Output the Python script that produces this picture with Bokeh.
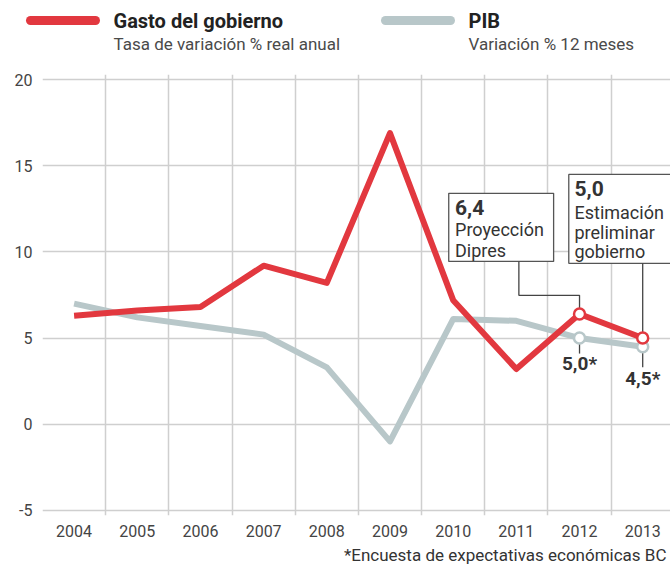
from bokeh.plotting import figure
from bokeh.models import Range1d, FixedTicker
from bokeh.layouts import column
from bokeh.core.properties import value
from bokeh.embed import file_html
from bokeh.resources import INLINE

# ---- data ----
years = [2004, 2005, 2006, 2007, 2008, 2009, 2010, 2011, 2012, 2013]
gasto = [6.3, 6.6, 6.8, 9.2, 8.2, 16.9, 7.2, 3.2, 6.4, 5.0]
pib = [7.0, 6.2, 5.7, 5.2, 3.3, -1.0, 6.1, 6.0, 5.0, 4.5]
y_ticks = [-5, 0, 5, 10, 15, 20]
hl_years = [2012, 2013]
hl_gasto = [6.4, 5.0]
hl_pib = [5.0, 4.5]
pib_labels = ["5,0*", "4,5*"]
legend_titles = ["Gasto del gobierno", "PIB"]
legend_subs = ["Tasa de variación % real anual", "Variación % 12 meses"]
footnote = "*Encuesta de expectativas económicas BC"

RED = "#e2383f"
GRAY = "#b8c7c9"
GRID = "#cfcfcf"
TXT = "#333333"
FONT = "Roboto"

# ---- legend strip (coordinates in page pixels) ----
lf = figure(width=670, height=66, x_range=Range1d(0, 670), y_range=Range1d(66, 0),
            output_backend="svg", toolbar_location=None, min_border=0, frame_align=False)
lf.axis.visible = False
lf.grid.visible = False
lf.outline_line_color = None
lf.line([30, 95], [20, 20], line_width=9, line_cap="round", color=RED)
lf.line([385, 450], [20, 20], line_width=9, line_cap="round", color=GRAY)
lf.text(x=[113, 468], y=[20, 20], text=legend_titles, text_font=value(FONT),
        text_font_size="20px", text_font_style="bold", text_color="#222222",
        text_baseline="middle", text_align="left")
lf.text(x=[113, 468], y=[43, 43], text=legend_subs, text_font=value(FONT),
        text_font_size="17px", text_color="#4a4a4a",
        text_baseline="middle", text_align="left")

# ---- main chart ----
p = figure(width=670, height=474, x_range=Range1d(2003.5, 2013.44), y_range=Range1d(-5.3, 20.3),
           output_backend="svg", toolbar_location=None, frame_align=False,
           min_border_left=42, min_border_right=0, min_border_top=8, min_border_bottom=25)
p.outline_line_color = None
p.background_fill_color = "white"

p.xaxis.ticker = FixedTicker(ticks=years)
p.yaxis.ticker = FixedTicker(ticks=y_ticks)
p.yaxis.major_label_overrides = {-5: "-5"}
for ax in (p.xaxis[0], p.yaxis[0]):
    ax.axis_line_color = None
    ax.major_tick_line_color = None
    ax.minor_tick_line_color = None
    ax.major_label_text_font = FONT
    ax.major_label_text_font_size = "16px"
    ax.major_label_text_color = "#444444"
p.xaxis.major_label_standoff = 3
p.yaxis.major_label_standoff = 4

p.xgrid.ticker = FixedTicker(ticks=[y + 0.5 for y in years[:-1]])
p.xgrid.grid_line_color = GRID
p.xgrid.grid_line_width = 1.5
p.ygrid.ticker = FixedTicker(ticks=y_ticks)
p.ygrid.grid_line_color = GRID
p.ygrid.grid_line_width = 1.5

# series
p.line(years, pib, color=GRAY, line_width=6, line_join="round")
p.line(years, gasto, color=RED, line_width=6, line_join="round")

# annotation boxes
p.quad(left=[2009.93], right=[2011.59], top=[13.4], bottom=[9.45],
       fill_color="white", line_color="#555555", line_width=1.3)
p.quad(left=[2011.83], right=[2013.8], top=[14.5], bottom=[9.34],
       fill_color="white", line_color="#555555", line_width=1.3)

# connectors
p.line([2011.04, 2011.04, 2012, 2012], [9.45, 7.48, 7.48, hl_gasto[0]], color="#444444", line_width=1.3)
p.line([2013, 2013], [9.34, hl_gasto[1]], color="#444444", line_width=1.3)
p.line([2012, 2012], [hl_pib[0], 4.1], color="#444444", line_width=1.3)
p.line([2013, 2013], [hl_pib[1], 3.3], color="#444444", line_width=1.3)

# box texts
p.text(x=[2010.03], y=[12.6], text=["6,4"], text_font=value(FONT), text_font_size="21px",
       text_font_style="bold", text_color=TXT, text_baseline="middle", text_align="left")
p.text(x=[2010.03, 2010.03], y=[11.3, 10.1], text=["Proyección", "Dipres"], text_font=value(FONT),
       text_font_size="18px", text_color=TXT, text_baseline="middle", text_align="left")
p.text(x=[2011.92], y=[13.7], text=["5,0"], text_font=value(FONT), text_font_size="21px",
       text_font_style="bold", text_color=TXT, text_baseline="middle", text_align="left")
p.text(x=[2011.92] * 3, y=[12.3, 11.15, 10.05], text=["Estimación", "preliminar", "gobierno"],
       text_font=value(FONT), text_font_size="18px", text_color=TXT,
       text_baseline="middle", text_align="left")

# markers
p.scatter(hl_years, hl_pib, size=11, fill_color="white", line_color=GRAY, line_width=2.5)
p.scatter(hl_years, hl_gasto, size=11, fill_color="white", line_color=RED, line_width=2.5)

# pib value labels
p.text(x=hl_years, y=[3.5, 2.65], text=pib_labels, text_font=value(FONT), text_font_size="19px",
       text_font_style="bold", text_color=TXT, text_baseline="middle", text_align="center")

# ---- footnote strip ----
ff = figure(width=670, height=28, x_range=Range1d(0, 670), y_range=Range1d(568, 540),
            output_backend="svg", toolbar_location=None, min_border=0, frame_align=False)
ff.axis.visible = False
ff.grid.visible = False
ff.outline_line_color = None
ff.text(x=[666], y=[554], text=[footnote], text_font=value(FONT), text_font_size="17px",
        text_color=TXT, text_baseline="middle", text_align="right")

layout = column(lf, p, ff, spacing=0)
open("out.html", "w").write(file_html(layout, INLINE))
